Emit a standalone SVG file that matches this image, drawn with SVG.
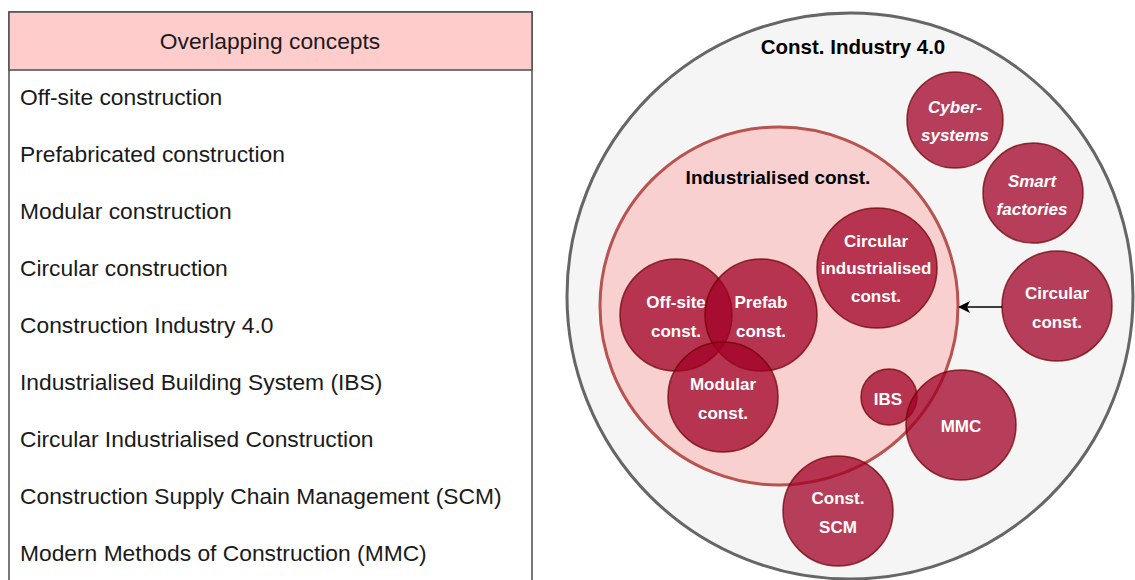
<svg xmlns="http://www.w3.org/2000/svg" width="1135" height="580" viewBox="0 0 1135 580">
<style>
.row{font-family:"Liberation Sans",Arial,sans-serif;font-size:22.8px;fill:#1a1a1a}
.hdr{font-family:"Liberation Sans",Arial,sans-serif;font-size:22.8px;fill:#1a1a1a;text-anchor:middle}
.title{font-family:"Liberation Sans",Arial,sans-serif;font-weight:bold;fill:#000;text-anchor:middle}
.c{fill:#a20025;fill-opacity:0.75;stroke:#6f0000;stroke-opacity:0.75;stroke-width:1.5}
.lbl{font-family:"Liberation Sans",Arial,sans-serif;font-weight:bold;font-size:17px;fill:#fff;text-anchor:middle}
.it{font-style:italic}
</style>
<defs>
<marker id="arr" viewBox="0 0 12 12" refX="11" refY="6" markerWidth="12" markerHeight="12" markerUnits="userSpaceOnUse" orient="auto">
<path d="M0,0 L12,6 L0,12 L3,6 Z" fill="#000"/>
</marker>
</defs>
<rect width="1135" height="580" fill="#fff"/>
<g id="table">
<rect x="9" y="12" width="523" height="600" fill="#fff" stroke="#4d4d4d" stroke-width="1.5"/>
<rect x="9" y="12" width="523" height="58" fill="#ffcccc" stroke="#4d4d4d" stroke-width="1.5"/>
<text class="hdr" x="270" y="49">Overlapping concepts</text>
<text class="row" x="20" y="105">Off-site construction</text>
<text class="row" x="20" y="162">Prefabricated construction</text>
<text class="row" x="20" y="219">Modular construction</text>
<text class="row" x="20" y="276">Circular construction</text>
<text class="row" x="20" y="333">Construction Industry 4.0</text>
<text class="row" x="20" y="390">Industrialised Building System (IBS)</text>
<text class="row" x="20" y="447">Circular Industrialised Construction</text>
<text class="row" x="20" y="504">Construction Supply Chain Management (SCM)</text>
<text class="row" x="20" y="561">Modern Methods of Construction (MMC)</text>
</g>
<g id="industry40">
<circle cx="850" cy="296" r="283" fill="#f5f5f5" stroke="#666" stroke-width="3"/>
<text class="title" x="853" y="54" font-size="20.5">Const. Industry 4.0</text>
</g>
<g id="industrialised">
<circle cx="779" cy="306" r="179" fill="#f8cecc" fill-opacity="0.95" stroke="#b85450" stroke-width="3"/>
<text class="title" x="778" y="184" font-size="19">Industrialised const.</text>
</g>
<g id="cyber">
<circle class="c" cx="955" cy="120" r="48"/>
<text class="lbl it" x="955" y="113">Cyber-</text>
<text class="lbl it" x="955" y="141">systems</text>
</g>
<g id="smart">
<circle class="c" cx="1033" cy="193" r="50"/>
<text class="lbl it" x="1032" y="187">Smart</text>
<text class="lbl it" x="1032" y="215">factories</text>
</g>
<g id="circind">
<circle class="c" cx="877" cy="268" r="60"/>
<text class="lbl" x="876" y="247">Circular</text>
<text class="lbl" x="876" y="274">industrialised</text>
<text class="lbl" x="876" y="302">const.</text>
</g>
<g id="offsite">
<circle class="c" cx="676" cy="315" r="56"/>
<text class="lbl" x="676" y="308">Off-site</text>
<text class="lbl" x="676" y="337">const.</text>
</g>
<g id="prefab">
<circle class="c" cx="761" cy="315" r="56"/>
<text class="lbl" x="761" y="308">Prefab</text>
<text class="lbl" x="761" y="337">const.</text>
</g>
<g id="modular">
<circle class="c" cx="723" cy="397" r="55"/>
<text class="lbl" x="723" y="390">Modular</text>
<text class="lbl" x="723" y="419">const.</text>
</g>
<g id="circular">
<circle class="c" cx="1057" cy="306" r="55"/>
<text class="lbl" x="1057" y="299">Circular</text>
<text class="lbl" x="1057" y="328">const.</text>
</g>
<g id="ibs">
<circle class="c" cx="889" cy="397" r="28"/>
<text class="lbl" x="888" y="405">IBS</text>
</g>
<g id="mmc">
<circle class="c" cx="961" cy="425" r="55"/>
<text class="lbl" x="961" y="432">MMC</text>
</g>
<g id="scm">
<circle class="c" cx="838" cy="511" r="55"/>
<text class="lbl" x="838" y="504">Const.</text>
<text class="lbl" x="838" y="533">SCM</text>
</g>
<g id="connectors">
<line x1="1002" y1="307" x2="959" y2="307" stroke="#000" stroke-width="1.5" marker-end="url(#arr)"/>
</g>
</svg>
